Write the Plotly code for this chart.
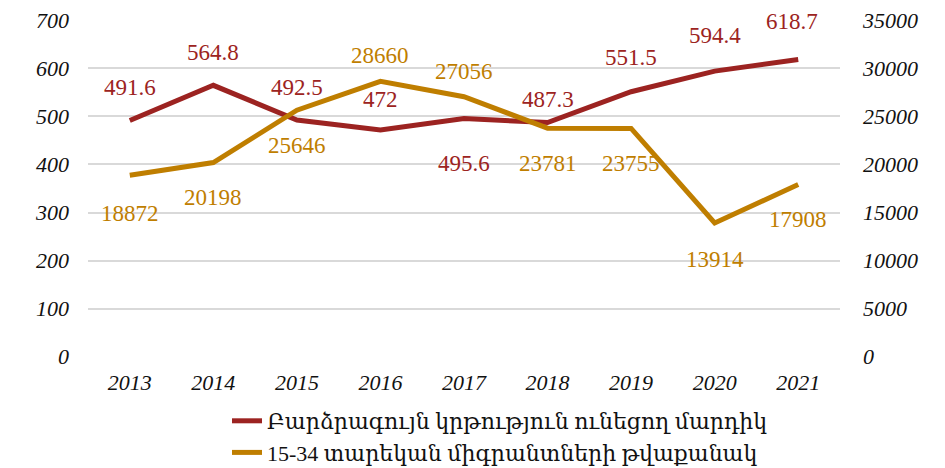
import plotly.graph_objects as go

years = ["2013", "2014", "2015", "2016", "2017", "2018", "2019", "2020", "2021"]
educated = [491.6, 564.8, 492.5, 472, 495.6, 487.3, 551.5, 594.4, 618.7]
migrants = [18872, 20198, 25646, 28660, 27056, 23781, 23755, 13914, 17908]
name_educated = "Բարձրագույն կրթություն ունեցող մարդիկ"
name_migrants = "15-34 տարեկան միգրանտների թվաքանակ"

# label offsets (pixels, positive = up)
edu_shift = [33, 33, 33, 30, -45, 23, 34, 36, 38]
edu_xshift = [0, 0, 0, 0, 0, 0, 0, 0, -6]
mig_shift = [-38, -35, -35, 26, 25, -35, -35, -37, -35]

RED = "#9C2321"
GOLD = "#BF7E00"
FONT = "Liberation Serif, DejaVu Serif, serif"

fig = go.Figure()
fig.add_trace(go.Scatter(
    x=years, y=educated, name=name_educated, mode="lines",
    line=dict(color=RED, width=5), yaxis="y"))
fig.add_trace(go.Scatter(
    x=years, y=migrants, name=name_migrants, mode="lines",
    line=dict(color=GOLD, width=5), yaxis="y2"))

annotations = []
for i, (v, s, xs) in enumerate(zip(educated, edu_shift, edu_xshift)):
    annotations.append(dict(x=i, y=v, xref="x", yref="y", text=str(v), showarrow=False,
                            yshift=s, xshift=xs, font=dict(color=RED, size=23, family=FONT)))
for i, (v, s) in enumerate(zip(migrants, mig_shift)):
    annotations.append(dict(x=i, y=v, xref="x", yref="y2", text=str(v), showarrow=False,
                            yshift=s, font=dict(color=GOLD, size=23, family=FONT)))

OFF = 8  # page body margin
W, H = 945, 468
L, T = 88 - OFF, 20 - OFF
R = W - (840 - OFF)
B = H - (357 - OFF)
pw, ph = W - L - R, H - T - B
def px(x): return (x - OFF - L) / pw
def py(y): return (H - B - (y - OFF)) / ph

tickfont = dict(size=22, style="italic", family=FONT, color="#111111")
fig.update_layout(
    width=W, height=H,
    margin=dict(l=L, r=R, t=T, b=B, autoexpand=False),
    paper_bgcolor="white", plot_bgcolor="white",
    font=dict(family=FONT, color="#111111"),
    showlegend=True,
    annotations=annotations,
    legend=dict(orientation="v", x=px(227), y=py(400), xanchor="left", yanchor="top",
                font=dict(size=22, family=FONT, color="#111111"),
                itemwidth=30, bgcolor="rgba(0,0,0,0)"),
    xaxis=dict(type="category", range=[-0.5, 8.5], showgrid=False, zeroline=False,
               showline=False, ticks="", tickfont=tickfont, ticklabelstandoff=10),
    yaxis=dict(range=[-0.8, 700.8], dtick=100, showgrid=True, gridcolor="#D9D9D9", gridwidth=1.5,
               zeroline=False, showline=False, ticks="", tickfont=tickfont,
               ticklabelstandoff=18, ticklabeloverflow="allow"),
    yaxis2=dict(range=[-40, 35040], dtick=5000, tickformat="d", overlaying="y", side="right",
                showgrid=False, zeroline=False, showline=False, ticks="",
                tickfont=tickfont, ticklabelstandoff=22, ticklabeloverflow="allow"),
    shapes=[dict(type="rect", xref="paper", yref="paper",
                 x0=px(6.5), x1=px(980), y0=py(500), y1=py(5),
                 line=dict(color="#D9D9D9", width=1.5), fillcolor="rgba(0,0,0,0)", layer="below")],
)

fig.write_html("out.html")
